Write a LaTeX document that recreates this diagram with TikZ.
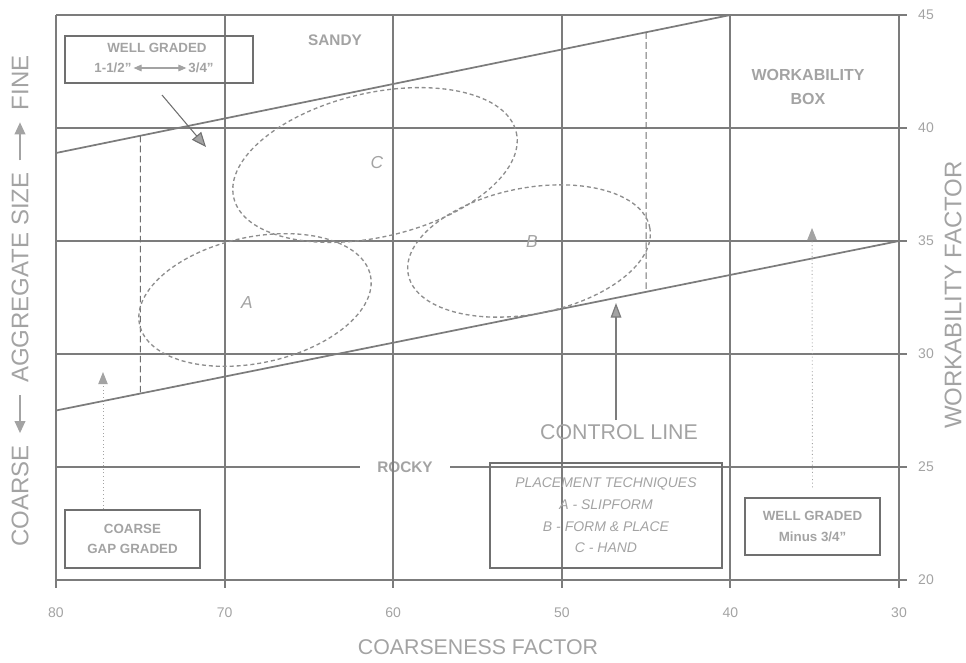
\documentclass[tikz,border=0pt]{standalone}
\usepackage{fontspec}
\setmainfont{Liberation Sans}
\usetikzlibrary{calc,positioning,arrows.meta}
\definecolor{gcLine}{HTML}{7C7C7C}
\definecolor{gcDark}{HTML}{707070}
\definecolor{gcText}{HTML}{A3A3A3}
\definecolor{gcBlob}{HTML}{8E8E8E}

\begin{document}
\begin{tikzpicture}[x=0.75pt, y=-0.75pt,
    gridline/.style={draw=gcLine, line width=1.6pt},
    trendline/.style={draw=gcLine, line width=1.3pt},
    limit/.style={draw=gcDark, line width=0.8pt, dash pattern=on 5pt off 2.5pt},
    blob/.style={draw=gcBlob, line width=1pt, dash pattern=on 3pt off 2.2pt},
    ticklbl/.style={text=gcText, font=\fontsize{10.5}{12}\selectfont},
    zone/.style={text=gcText, font=\bfseries\fontsize{11.5}{18.5}\selectfont, align=center},
    axis/.style={text=gcText, font=\fontsize{16}{18}\selectfont},
    sideaxis/.style={text=gcText, font=\fontsize{18}{20}\selectfont, rotate=90, anchor=west, inner sep=0pt},
    blobtag/.style={text=gcText, font=\itshape\fontsize{13}{15}\selectfont},
    note/.style={draw=gcDark, line width=1.1pt, text=gcText, font=\bfseries\fontsize{10}{15.5}\selectfont, align=center},
    pointer/.style={draw=gcText, line width=0.7pt, dotted, -{Triangle[length=9pt,width=7pt]}}]
  \useasboundingbox (0,0) rectangle (966,663);

  % Workability factor grid
  \foreach \v [count=\i from 0] in {45,40,35,30,25,20} {
    \draw[gridline] (56,15+113*\i) -- (907,15+113*\i);
    \node[ticklbl] (wf\v) at (926,15+113*\i) {\v};
  }

  % ROCKY sits in a gap of the 25 line
  \node[zone, fill=white, inner xsep=13pt] (rocky) at (405,467) {ROCKY};

  % Coarseness factor grid
  \foreach \c [count=\i from 0] in {80,70,60,50,40,30} {
    \draw[gridline] (56+168.6*\i,15) -- (56+168.6*\i,588);
    \node[ticklbl] (cf\c) at (56+168.6*\i,613) {\c};
  }

  % Box limits
  \coordinate (up1) at (56,153);
  \coordinate (up2) at (730.4,15);
  \coordinate (lo1) at (56,410.5);
  \coordinate (lo2) at (899,241);
  \draw[trendline] (up1) -- (up2);
  \draw[trendline] (lo1) -- (lo2);
  \draw[limit] ($(up1)!0.125!(up2)$) -- ($(lo1)!0.1!(lo2)$);
  \draw[limit] ($(up1)!0.875!(up2)$) -- ($(lo1)!0.7!(lo2)$);

  % Placement zones
  \draw[blob, rotate around={12:(255,300)}] (255,300) ellipse [x radius=118, y radius=63];
  \draw[blob, rotate around={11:(529,251)}] (529,251) ellipse [x radius=123, y radius=63];
  \draw[blob, rotate around={13:(375,165)}] (375,165) ellipse [x radius=145, y radius=72];
  \node[blobtag] (tagA) at (247,303) {A};
  \node[blobtag] (tagB) at (532,242) {B};
  \node[blobtag] (tagC) at (377,163) {C};

  % Region names
  \node[zone] (sandy) at (335,40) {SANDY};
  \node[zone, font=\bfseries\fontsize{12}{18.5}\selectfont] (wbox) at (808,87) {WORKABILITY\\BOX};

  % Well graded 1-1/2" to 3/4"
  \node[note, minimum width=141pt, minimum height=35.25pt] (wgbox) at (159,59.5) {};
  \node[note, draw=none] (wgtitle) at (157,48) {WELL GRADED};
  \node[note, draw=none, inner sep=1pt] (wgfrom) at (113,68) {1-1/2"};
  \node[note, draw=none, inner sep=1pt] (wgto) at (201,68) {3/4"};
  \draw[gcText, line width=0.8pt, {Triangle[length=6pt,width=5pt]}-{Triangle[length=6pt,width=5pt]}] (wgfrom) -- (wgto);
  \coordinate (wgtail) at (162,95);
  \coordinate (wgtip) at (206,147);
  \draw[gcDark, line width=0.8pt, -{Triangle[length=11pt,width=9pt,fill=gcText]}] (wgtail) -- (wgtip);

  % Coarse gap graded
  \node[note, minimum width=101.25pt, minimum height=43.5pt] (cgg) at (132.5,539) {COARSE\\GAP GRADED};
  \coordinate (cgtip) at (103,372);
  \draw[pointer] (cgtip |- cgg.north) -- (cgtip);

  % Well graded minus 3/4"
  \node[note, minimum width=101.25pt, minimum height=42.75pt] (wgm) at (812.5,526.5) {WELL GRADED\\Minus 3/4"};
  \coordinate (wgmtip) at (812,228);
  \draw[pointer, shorten <=7.5pt] (wgm.north) -- (wgmtip);

  % Control line
  \node[axis] (ctl) at (619,432) {CONTROL LINE};
  \coordinate (ctltip) at (616,303);
  \draw[gcLine, line width=0.9pt, -{Triangle[length=11pt,width=8pt,fill=gcText]}] (ctl.north -| ctltip) -- (ctltip);

  % Placement techniques
  \node[note, font=\itshape\fontsize{10.5}{16.3}\selectfont, minimum width=174pt, minimum height=78.75pt] (place) at (606,515.5)
    {PLACEMENT TECHNIQUES\\A - SLIPFORM\\B - FORM \& PLACE\\C - HAND};

  % Axis titles
  \node[axis] (cfaxis) at (478,647) {COARSENESS FACTOR};
  \node[axis, font=\fontsize{18}{20}\selectfont, rotate=90] (wfaxis) at (953,295) {WORKABILITY FACTOR};
  \node[sideaxis] (coarse) at (20,547) {COARSE};
  \node[sideaxis] (agg) at ($(coarse.east)+(0,-62)$) {AGGREGATE SIZE};
  \node[sideaxis] (fine) at ($(agg.east)+(0,-62)$) {FINE};
  \draw[gcText, line width=1.2pt, -{Triangle[length=9pt,width=8pt]}, shorten <=9pt, shorten >=9pt] (agg.west) -- (coarse.east);
  \draw[gcText, line width=1.2pt, -{Triangle[length=9pt,width=8pt]}, shorten <=9pt, shorten >=9pt] (agg.east) -- (fine.west);
\end{tikzpicture}
\end{document}
